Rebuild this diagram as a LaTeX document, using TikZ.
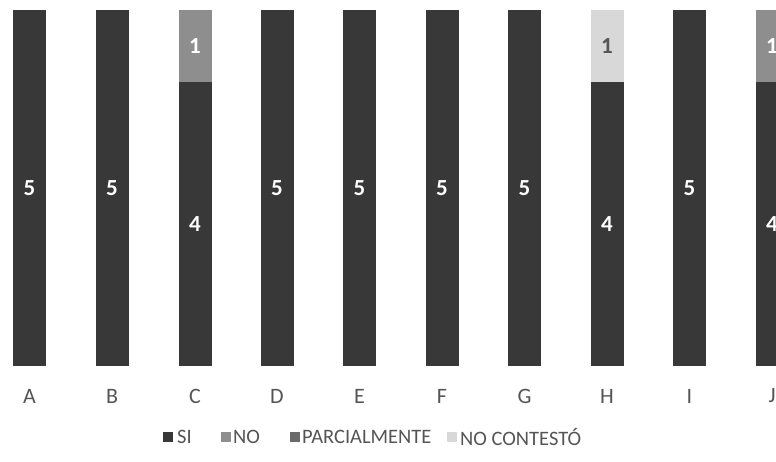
\documentclass[tikz,border=0pt]{standalone}
\usepackage{fontspec}
\setmainfont{Carlito}
\definecolor{siC}{HTML}{383838}
\definecolor{noC}{HTML}{8E8E8E}
\definecolor{parC}{HTML}{6A6A6A}
\definecolor{ncC}{HTML}{D8D8D8}
\definecolor{txtC}{HTML}{555555}
\begin{document}
\begin{tikzpicture}[x=1pt,y=-1pt,
  barbox/.style={draw=none,minimum width=33pt,inner sep=0pt,outer sep=0pt,anchor=north},
  num/.style={text=white,font=\fontsize{23}{26}\selectfont\bfseries,inner sep=0pt},
  axl/.style={text=txtC,font=\fontsize{22}{25}\selectfont,inner sep=0pt},
  legbox/.style={minimum size=10pt,inner sep=0pt,outer sep=0pt,draw=none},
  legtxt/.style={text=txtC,font=\fontsize{20.5}{23}\selectfont,inner sep=0pt,anchor=west}]
\useasboundingbox (0,0) rectangle (776,461);
\clip (0,0) rectangle (776,461);
% full bars
\foreach \n/\x in {A/29.5,B/112,D/277,E/359.5,F/442,G/524.5,I/689.5}{
  \node[barbox,fill=siC,minimum height=356pt] (bar\n) at (\x,10) {};
  \node[num] (num\n) at (bar\n.center) {5};
}
% split bars
\node[barbox,fill=noC,minimum height=72pt] (topC) at (195,10) {};
\node[barbox,fill=siC,minimum height=284pt] (botC) at (195,82) {};
\node[num] (ntC) at (topC.center) {1};
\node[num] (nbC) at (botC.center) {4};
\node[barbox,fill=ncC,minimum height=72pt] (topH) at (607,10) {};
\node[barbox,fill=siC,minimum height=284pt] (botH) at (607,82) {};
\node[num,text=txtC] (ntH) at (topH.center) {1};
\node[num] (nbH) at (botH.center) {4};
\node[barbox,fill=noC,minimum height=72pt] (topJ) at (772,10) {};
\node[barbox,fill=siC,minimum height=284pt] (botJ) at (772,82) {};
\node[num] (ntJ) at (topJ.center) {1};
\node[num] (nbJ) at (botJ.center) {4};
% axis labels
\foreach \n/\x in {A/29.5,B/112,C/195,D/277,E/359.5,F/442,G/524.5,H/607,I/689.5,J/772}{
  \node[axl] (lab\n) at (\x,396) {\n};
}
% legend
\node[legbox,fill=siC] (kSI) at (168,437) {};
\node[legtxt] (tSI) at (177,437) {SI};
\node[legbox,fill=noC] (kNO) at (226,437) {};
\node[legtxt] (tNO) at (233,437) {NO};
\node[legbox,fill=parC] (kPA) at (295,437) {};
\node[legtxt] (tPA) at (302,437) {PARCIALMENTE};
\node[legbox,fill=ncC] (kNC) at (452,437) {};
\node[legtxt] (tNC) at (460,437) {NO CONTESTÓ};
\end{tikzpicture}
\end{document}
